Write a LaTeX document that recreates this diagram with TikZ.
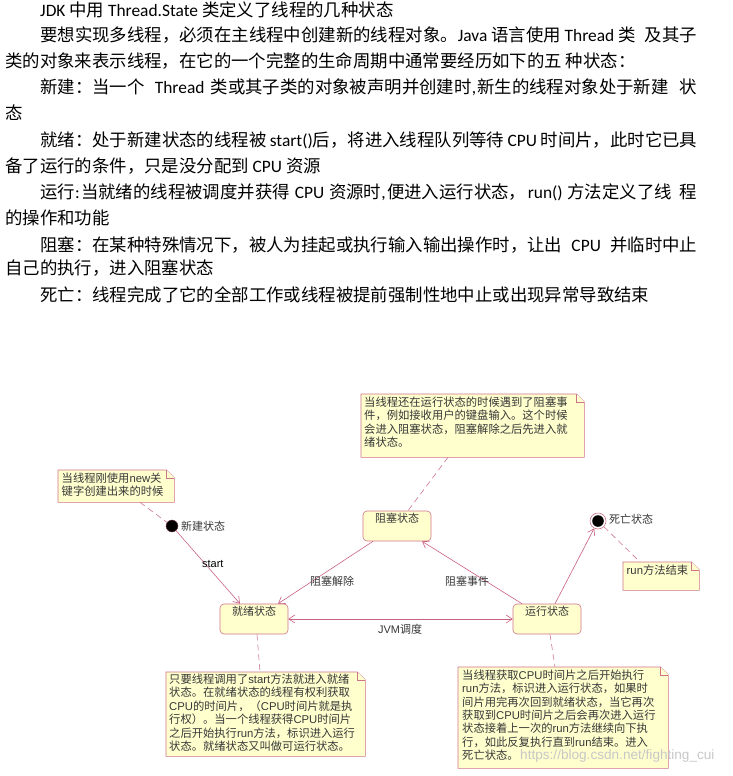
\documentclass[tikz,border=0pt]{standalone}
\usepackage{fontspec}
\setmainfont{Noto Sans CJK SC}
\newfontfamily\latfont{Carlito}
\newfontfamily\arialfont{Liberation Sans}
\usetikzlibrary{arrows.meta}
\definecolor{notefill}{RGB}{255,255,206}
\definecolor{pinkline}{RGB}{200,96,128}
\definecolor{boxline}{RGB}{206,116,138}
\definecolor{txtgray}{RGB}{55,55,55}
\newcommand\myLat[1]{{\latfont #1}}
\newcommand\myAr[1]{{\arialfont #1}}
\newcommand\drawnote[1]{%
  \filldraw[noteline] (#1.north west) -- ([xshift=-8pt]#1.north east) -- ([yshift=-8pt]#1.north east) -- (#1.south east) -- (#1.south west) -- cycle;
  \draw[noteline] ([xshift=-8pt]#1.north east) -- ([xshift=-8pt,yshift=-8pt]#1.north east) -- ([yshift=-8pt]#1.north east);}
\begin{document}
\begin{tikzpicture}[x=1pt,y=-1pt,
  para/.style={anchor=west,inner sep=0pt,font=\fontsize{17.4}{20}\selectfont,text=black},
  notearea/.style={draw=none,inner sep=0pt,anchor=north west,shape=rectangle},
  noteline/.style={draw=boxline,fill=notefill,line width=0.6pt},
  notetext/.style={anchor=north west,inner sep=0pt,align=left,text=txtgray,font=\fontsize{11.3}{13.4}\selectfont},
  statebox/.style={draw=boxline,fill=notefill,rounded corners=4pt,line width=0.6pt,minimum width=68pt,inner xsep=0pt,inner ysep=3pt,text height=8pt,text depth=16pt,text=txtgray,font=\fontsize{11}{13}\selectfont},
  lbl/.style={inner sep=1pt,text=txtgray,font=\fontsize{11}{13}\selectfont},
  arr/.style={draw=pinkline,line width=0.6pt,-{Straight Barb[length=6pt,width=8pt]}},
  darr/.style={draw=pinkline,line width=0.6pt,{Straight Barb[length=6pt,width=8pt]}-{Straight Barb[length=6pt,width=8pt]}},
  dashline/.style={draw=pinkline!85,line width=0.6pt,dash pattern=on 6pt off 4pt}
]
\useasboundingbox (0,0) rectangle (733,776);

% ---------- paragraph text ----------
\node[para] (l1) at (40,10) {\myLat{JDK} 中用 \myLat{Thread.State} 类定义了线程的几种状态};
\node[para] (l2) at (40,35) {\hbox to 657pt{要想实现多线程，必须在主线程中创建新的线程对象。\myLat{Java} 语言使用 \myLat{Thread} 类\hfill 及其子}};
\node[para] (l3) at (5,61) {类的对象来表示线程，在它的一个完整的生命周期中通常要经历如下的五 种状态：};
\node[para] (l4) at (40,87) {\hbox to 657pt{新建：当一个\hspace{4pt plus 4pt} \myLat{Thread} \hspace{0pt plus 4pt}类或其子类的对象被声明并创建时\myLat{,}\hspace{0pt plus 3pt}新生的线程对象处于新建 \hspace{4pt plus 6pt}状}};
\node[para] (l5) at (5,113) {态};
\node[para] (l6) at (40,140) {\hbox to 657pt{就绪：处于新建状态的线程被 \myLat{start()}后，将进入线程队列等待 \myLat{CPU} 时间片，此时它已具}};
\node[para] (l7) at (5,166) {备了运行的条件，只是没分配到 \myLat{CPU} 资源};
\node[para] (l8) at (40,192) {\hbox to 657pt{运行\myLat{:}\hspace{0pt plus 3pt}当就绪的线程被调度并获得 \myLat{CPU} 资源时\myLat{,}\hspace{0pt plus 3pt}便进入运行状态，\hspace{0pt plus 3pt}\myLat{run()} 方法定义了线 \hspace{0pt plus 6pt}程}};
\node[para] (l9) at (5,218) {的操作和功能};
\node[para] (l10) at (40,245) {\hbox to 657pt{阻塞：在某种特殊情况下，被人为挂起或执行输入输出操作时，让出\hfill \myLat{CPU}\hfill 并临时中止}};
\node[para] (l11) at (5,268) {自己的执行，进入阻塞状态};
\node[para] (l12) at (40,295) {死亡：线程完成了它的全部工作或线程被提前强制性地中止或出现异常导致结束};

% ---------- notes ----------
\node[notearea,minimum width=116pt,minimum height=32pt] (n1) at (58,470) {};
\drawnote{n1}
\node[notetext] (n1t) at ([xshift=3.5pt,yshift=-2.5pt]n1.north west) {当线程刚使用\myAr{new}关\\键字创建出来的时候};

\node[notearea,minimum width=223pt,minimum height=63pt] (n2) at (361,394) {};
\drawnote{n2}
\node[notetext] (n2t) at ([xshift=3pt,yshift=-2.5pt]n2.north west) {当线程还在运行状态的时候遇到了阻塞事\\件，例如接收用户的键盘输入。这个时候\\会进入阻塞状态，阻塞解除之后先进入就\\绪状态。};

\node[notearea,minimum width=76pt,minimum height=28pt] (n5) at (623,562) {};
\drawnote{n5}
\node[notetext] (n5t) at ([xshift=3.5pt,yshift=-2.5pt]n5.north west) {\myAr{run}方法结束};

\node[notearea,minimum width=199pt,minimum height=84pt] (n3) at (166,672) {};
\drawnote{n3}
\node[notetext] (n3t) at ([xshift=3pt,yshift=-1.8pt]n3.north west) {只要线程调用了\myAr{start}方法就进入就绪\\状态。在就绪状态的线程有权利获取\\\myAr{CPU}的时间片，（\myAr{CPU}时间片就是执\\行权）。当一个线程获得\myAr{CPU}时间片\\之后开始执行\myAr{run}方法，标识进入运行\\状态。就绪状态又叫做可运行状态。};

\node[notearea,minimum width=210pt,minimum height=101pt] (n4) at (458,667) {};
\drawnote{n4}
\node[notetext] (n4t) at ([xshift=4pt,yshift=-2.5pt]n4.north west) {当线程获取\myAr{CPU}时间片之后开始执行\\\myAr{run}方法，标识进入运行状态，如果时\\间片用完再次回到就绪状态，当它再次\\获取到\myAr{CPU}时间片之后会再次进入运行\\状态接着上一次的\myAr{run}方法继续向下执\\行，如此反复执行直到\myAr{run}结束。进入\\死亡状态。};

% ---------- states ----------
\node[statebox] (blocked) at (397,526) {阻塞状态};
\node[statebox] (ready) at (254,619) {就绪状态};
\node[statebox] (running) at (547,619) {运行状态};

\node[circle,fill=black,draw=pinkline!60!black,minimum size=12pt,inner sep=0pt] (init) at (172,526) {};
\node[lbl,anchor=west] (initl) at (180,526) {新建状态};

\node[circle,fill=white,draw=boxline,line width=0.6pt,minimum size=16pt,inner sep=0pt] (final) at (598,521) {};
\fill[black] (final.center) circle (5.8pt);
\node[lbl,anchor=west] (finall) at (608,519) {死亡状态};

% ---------- transitions ----------
\draw[arr] (init) -- ([xshift=-14pt]ready.north) node[pos=0.45,lbl,anchor=west,xshift=-4pt,text=black] (startl) {\myAr{start}};
\draw[arr] ([xshift=-24pt]blocked.south) -- ([xshift=24pt]ready.north);
\node[lbl] (unblk) at (332,581) {阻塞解除};
\draw[arr] ([xshift=-25pt]running.north) -- ([xshift=25pt]blocked.south);
\node[lbl] (blkev) at (467,581) {阻塞事件};
\draw[darr] (ready.east) -- (running.west);
\node[lbl] (jvm) at (400,629) {\myAr{JVM}调度};
\draw[arr] ([xshift=8pt]running.north) -- (final);

% ---------- note anchors ----------
\draw[dashline] ([xshift=82pt]n1.south west) -- (init);
\draw[dashline] ([xshift=87pt]n2.south west) -- ([xshift=11pt]blocked.north);
\draw[dashline] (final) -- ([xshift=17pt]n5.north west);
\draw[dashline] ([xshift=3pt]ready.south) -- ([xshift=94pt]n3.north west);
\draw[dashline] ([xshift=3pt]running.south) -- ([xshift=97pt]n4.north west);

% ---------- watermark ----------
\node[anchor=west,inner sep=0pt,text=black!22,font=\arialfont\fontsize{13.6}{15}\selectfont] (wm) at (520,756) {https://blog.csdn.net/fighting\_cui};
\end{tikzpicture}
\end{document}
